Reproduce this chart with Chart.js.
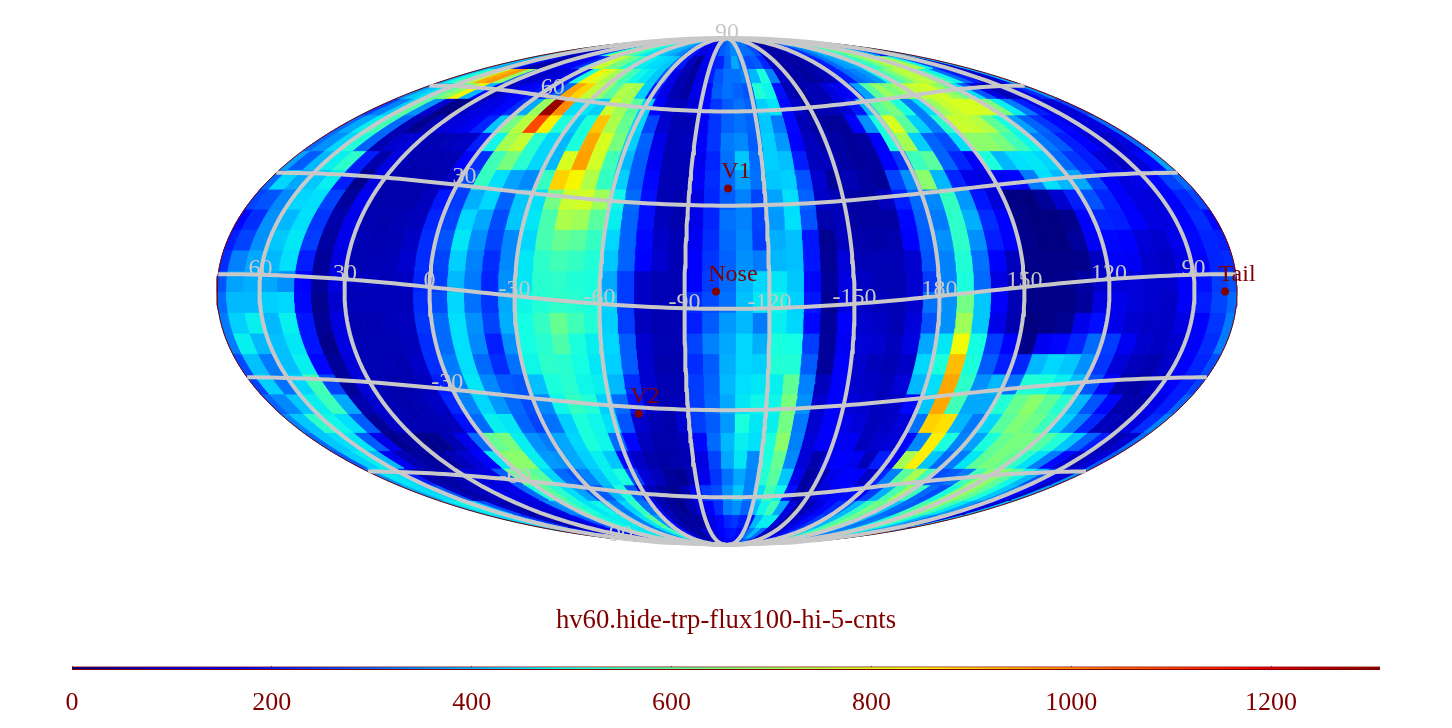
<!DOCTYPE html>
<html>
<head>
<meta charset="utf-8">
<title>hv60 sky map</title>
<script src="https://cdn.jsdelivr.net/npm/chart.js@4/dist/chart.umd.min.js"></script>
<style>
  html, body { margin: 0; background: #fff; }
  canvas { position: absolute; left: 0; }
  #map { top: 0; }
  #bar { top: 600px; }
</style>
</head>
<body>
<canvas id="map" width="1452" height="728"></canvas>
<canvas id="bar" width="1452" height="128"></canvas>
<script>
// one list per 6 degree latitude row, north to south, 60 columns left to right
// (the first column is the seam, half of it on each side of the map)
const latN87 = [420,430,390,320,140,60,90,100,140,250,500,700,720,620,560,500,470,450,440,420,400,380,340,280,200,140,120,160,220,280,300,330,320,320,320,280,150,70,40,40,60,110,170,230,300,350,400,430,480,540,600,640,650,540,380,220,120,80,120,240];
const latN81 = [430,420,380,300,100,60,100,90,130,230,500,740,800,660,600,520,470,450,440,420,400,380,340,280,200,120,100,150,220,280,300,340,320,300,300,260,120,60,40,40,50,100,160,220,300,350,400,430,500,560,640,700,720,600,400,200,100,70,100,200];
const latN75 = [420,380,300,260,120,60,40,50,100,130,140,210,480,760,780,650,620,520,440,470,450,440,420,330,190,70,30,130,200,210,290,380,310,260,280,210,70,30,50,40,40,50,120,200,300,360,380,420,500,560,660,740,760,750,700,480,260,130,60,100];
const latN69 = [400,500,600,760,950,980,700,300,100,80,100,100,130,200,500,850,800,720,640,560,480,460,420,280,120,60,40,110,200,270,310,310,330,400,500,330,80,30,50,30,50,60,130,200,300,330,360,480,560,640,730,760,700,560,480,300,200,80,60,110];
const latN63 = [350,420,460,600,680,850,400,170,60,100,140,170,200,190,300,960,900,760,700,600,740,720,430,200,120,60,40,120,170,280,310,290,270,510,480,180,60,30,60,60,110,130,170,370,600,700,650,700,760,780,790,700,620,450,270,110,60,90,110,220];
const latN57 = [250,330,430,600,350,90,10,10,80,110,120,170,220,380,700,1280,1000,450,460,430,780,710,600,430,150,80,70,100,170,230,280,310,290,430,460,170,80,30,60,60,100,190,400,600,650,500,320,450,700,770,800,800,790,660,470,320,200,120,90,100];
const latN51 = [300,380,470,560,300,60,20,60,100,110,130,210,420,640,750,1090,860,500,420,500,920,730,620,440,250,90,60,60,130,230,290,310,290,420,320,170,60,40,30,30,150,350,500,800,600,430,320,520,780,770,740,610,490,370,290,230,170,120,100,110];
const latN45 = [300,350,440,510,290,60,90,100,60,60,70,80,200,480,720,770,520,440,400,500,960,800,650,430,290,120,60,70,140,230,320,340,280,430,360,150,70,50,45,30,40,140,500,720,430,290,260,450,680,680,650,560,480,320,280,200,160,100,80,110];
const latN39 = [370,280,400,470,530,200,50,110,60,50,55,60,150,220,560,650,520,440,400,800,970,790,560,400,280,130,60,65,130,210,310,420,300,430,410,200,70,70,40,30,35,150,230,550,600,290,210,140,500,400,450,460,440,300,230,200,100,80,100,170];
const latN33 = [300,440,380,420,470,200,15,110,50,50,50,55,80,260,540,450,370,340,540,900,850,740,540,430,280,170,60,60,140,220,300,370,310,420,430,270,90,30,60,40,30,250,350,680,400,210,120,110,150,170,320,450,400,380,250,160,110,120,170,250];
const latN27 = [250,270,340,440,450,250,35,130,50,50,50,70,190,240,390,440,290,420,450,640,780,790,710,480,300,180,60,50,110,210,280,330,250,370,450,290,80,60,40,35,70,200,300,340,540,360,190,100,5,0,30,90,200,270,210,140,110,100,150,210];
const latN21 = [170,220,350,400,450,230,50,120,55,50,60,70,210,250,440,380,260,420,460,570,730,710,600,470,290,180,70,50,120,210,310,330,250,360,450,270,50,70,40,40,40,170,290,320,530,390,220,150,10,0,0,15,150,210,200,160,110,110,160,220];
const latN15 = [200,250,350,420,460,240,40,120,60,55,60,80,220,270,460,350,250,340,440,570,620,600,540,440,290,170,80,60,130,220,300,340,240,390,410,190,20,70,50,45,50,150,280,350,530,350,200,140,15,0,0,30,140,170,150,100,90,120,170,210];
const latN9 = [220,330,380,400,450,200,30,110,60,60,65,90,220,250,430,330,220,340,460,530,560,540,510,420,290,160,90,60,140,230,290,350,320,400,410,190,25,100,60,60,60,90,270,330,510,310,160,70,10,10,10,15,75,140,130,90,80,110,160,210];
const latN3 = [270,370,390,380,350,150,30,110,70,70,65,75,210,240,400,320,210,350,460,520,530,510,500,380,240,80,60,60,150,240,300,400,440,460,420,170,30,110,75,60,60,90,240,330,500,300,110,55,10,10,15,40,85,100,100,90,90,140,180,240];
const latS3 = [300,400,400,430,440,170,20,90,65,65,65,65,220,260,440,310,230,380,480,510,530,520,500,430,240,80,60,60,220,260,310,410,460,480,430,190,25,110,80,70,60,90,310,350,640,420,140,60,10,10,10,30,110,120,100,90,80,140,200,250];
const latS9 = [320,430,470,400,470,190,25,110,55,55,65,70,230,300,450,350,250,390,490,540,620,560,510,430,240,70,55,60,200,280,360,400,320,470,440,170,30,140,90,80,60,100,270,350,710,420,120,55,0,10,20,120,180,120,90,80,80,110,160,230];
const latS15 = [320,470,400,410,460,190,15,110,60,60,60,70,220,300,450,340,200,350,490,520,580,500,470,440,280,90,60,60,250,330,380,440,390,500,490,240,30,130,100,90,70,110,380,460,840,490,240,150,10,130,170,210,300,240,130,90,75,90,150,220];
const latS21 = [260,410,320,410,470,170,30,100,60,60,55,80,220,320,450,300,220,310,480,530,520,490,460,430,280,90,50,50,220,280,390,440,430,510,510,280,30,140,90,70,60,80,440,500,930,500,280,200,210,400,440,420,350,230,100,70,55,80,140,210];
const latS27 = [250,430,310,440,560,250,30,100,60,50,55,70,200,330,460,340,280,270,410,500,520,480,470,400,220,90,60,60,240,290,400,450,460,470,610,330,70,150,90,80,70,100,400,450,960,530,350,400,310,510,500,470,410,270,170,50,40,70,140,200];
const latS33 = [290,340,420,470,550,380,50,90,55,50,60,80,210,330,440,360,300,260,340,480,540,510,430,300,190,80,60,70,240,300,380,460,480,480,650,350,90,160,100,90,70,80,170,420,960,560,380,380,510,620,680,610,520,400,270,170,50,50,120,200];
const latS39 = [330,420,530,480,450,280,30,80,60,55,60,70,180,300,470,460,290,250,310,430,500,480,450,270,90,60,50,90,240,280,360,500,460,470,640,320,90,140,120,100,70,80,100,310,900,880,400,320,440,600,660,630,550,430,330,210,70,60,110,220];
const latS45 = [300,420,450,460,280,120,20,40,15,20,60,120,300,620,650,470,350,320,380,440,500,480,300,170,70,50,50,70,170,300,400,470,450,500,680,330,100,140,130,130,70,90,100,170,340,860,500,330,370,500,620,650,640,590,510,420,290,200,60,90];
const latS51 = [280,430,470,400,130,60,40,30,40,70,100,150,460,680,680,470,360,350,380,430,470,420,170,80,50,45,50,60,110,250,380,460,340,500,620,340,100,50,130,160,130,70,200,140,720,860,420,300,320,460,610,650,620,530,450,320,170,90,70,100];
const latS57 = [350,460,450,200,60,40,50,70,100,100,110,280,620,640,600,440,300,270,330,410,470,500,250,100,70,30,20,60,120,230,310,380,330,510,600,420,120,40,60,120,160,160,80,210,330,600,720,560,260,280,320,560,680,680,600,480,400,270,120,90];
const latS63 = [380,450,440,280,70,40,70,60,120,110,120,300,500,600,520,450,370,270,280,400,500,280,100,60,30,20,60,130,240,260,350,420,330,450,560,480,180,40,60,100,130,170,180,150,240,390,570,700,550,300,260,500,680,690,610,500,420,330,150,80];
const latS69 = [420,470,500,440,260,80,50,40,100,100,110,330,360,560,500,460,480,400,320,440,540,310,130,60,30,20,60,100,160,220,320,350,290,400,480,560,380,110,30,70,110,170,220,300,400,540,640,620,420,300,280,560,680,660,560,460,370,260,110,100];
const latS75 = [430,450,440,380,230,70,50,60,90,100,130,280,400,540,480,470,470,400,330,460,600,360,160,60,30,40,30,60,120,170,210,230,200,180,400,470,470,100,40,80,120,180,240,330,400,560,640,540,400,310,320,520,650,640,500,400,320,230,100,90];
const latS81 = [430,440,420,350,200,80,50,60,80,100,150,280,420,500,470,460,460,400,340,450,560,380,170,70,40,40,80,90,120,150,180,190,170,200,320,400,300,90,40,70,120,180,250,340,420,560,620,520,400,320,340,500,620,620,480,380,300,200,100,90];
const latS87 = [420,430,410,330,180,80,60,70,90,110,160,260,400,460,450,450,440,380,340,430,500,370,190,90,50,50,90,90,110,130,150,150,150,180,240,300,240,110,60,80,130,180,240,330,400,520,570,500,390,320,340,480,580,580,450,360,290,190,100,90];
const rows = [latN87,latN81,latN75,latN69,latN63,latN57,latN51,latN45,latN39,latN33,latN27,latN21,latN15,latN9,latN3,
              latS3,latS9,latS15,latS21,latS27,latS33,latS39,latS45,latS51,latS57,latS63,latS69,latS75,latS81,latS87];

const meridians = [60,30,0,-30,-60,-90,-120,-150,180,150,120,90];
const parallels = [60,30,0,-30,-60];
const latLabels = ['90','60','30','-30','-60','-90'];
const latLabelLats = [90,60,30,-30,-60,-78];
const latLabelLons = [-105,-9,-3,2,7,-3];
const latLabelDy = [-5,-9,-9,-6,-3,9];
const markerNames = ['V1','Nose','V2','Tail'];
const markerLons = [-105.4,-101.1,-69.5,79.2];
const markerLats = [30.2,0,-36.1,0];
const markerTextDx = [8,17,6,12];
const barTicks = [0,200,400,600,800,1000,1200];
const barMax = 1309;

const title = 'hv60.hide-trp-flux100-hi-5-cnts';
const darkRed = '#800000';
const gridGray = '#c8c8c8';
const serif = '"Liberation Serif", "Times New Roman", serif';

// map geometry in the picture
const mapCx = 727, mapCy = 291.5, mapHalfW = 510, mapHalfH = 253.5;
const R2 = Math.SQRT2;
const centerLon = -105;
const gridTilt = 5; // the graticule sits about 5 degrees off the data grid

function jet(v) {
  const t = Math.min(1, Math.max(0, v / barMax));
  const ramp = (p, pts) => {
    for (let i = 1; i < pts.length; i++) {
      if (p <= pts[i][0]) {
        const a = pts[i - 1], b = pts[i];
        return a[1] + (b[1] - a[1]) * (p - a[0]) / (b[0] - a[0]);
      }
    }
    return pts[pts.length - 1][1];
  };
  const r = ramp(t, [[0,0],[0.35,0],[0.66,1],[0.89,1],[1,0.5]]);
  const g = ramp(t, [[0,0],[0.125,0],[0.375,1],[0.64,1],[0.91,0],[1,0]]);
  const b = ramp(t, [[0,0.5],[0.11,1],[0.34,1],[0.65,0],[1,0]]);
  return 'rgb(' + Math.round(r * 255) + ',' + Math.round(g * 255) + ',' + Math.round(b * 255) + ')';
}

// Mollweide auxiliary angle
function thetaOf(latDeg) {
  const phi = latDeg * Math.PI / 180;
  if (Math.abs(latDeg) >= 90) return Math.sign(latDeg) * Math.PI / 2;
  let th = phi;
  for (let i = 0; i < 40; i++) {
    const d = 2 + 2 * Math.cos(2 * th);
    if (d < 1e-6) break;
    th -= (2 * th + Math.sin(2 * th) - Math.PI * Math.sin(phi)) / d;
  }
  return th;
}
function project(off, lat) {
  const th = thetaOf(lat);
  return { x: 2 * R2 / 180 * off * Math.cos(th), y: R2 * Math.sin(th) };
}
function lonToOffset(lon) {
  let off = centerLon - lon;
  while (off > 180) off -= 360;
  while (off < -180) off += 360;
  return off;
}
// graticule point: tilted in y, and in x only on the far half of the map
function gridPoint(off, lat) {
  const c = Math.cos(off * Math.PI / 180);
  const fade = 1 - Math.pow(Math.abs(lat) / 90, 8);
  const latY = lat - gridTilt * c * fade;
  const latX = lat - gridTilt * Math.min(0, c) * fade;
  return { x: project(off, latX).x, y: project(off, latY).y };
}

function cellPolygon(off0, off1, latTop, latBottom) {
  const pts = [];
  const n = 4;
  for (let k = 0; k <= n; k++) pts.push(project(off0, latTop + (latBottom - latTop) * k / n));
  for (let k = n; k >= 0; k--) pts.push(project(off1, latTop + (latBottom - latTop) * k / n));
  pts.push(pts[0]);
  return pts;
}

const datasets = [];
function addCell(off0, off1, latTop, value) {
  const color = jet(value);
  datasets.push({
    data: cellPolygon(off0, off1, latTop, latTop - 6),
    fill: 'shape', backgroundColor: color, borderColor: color, borderWidth: 1, order: 10
  });
}
rows.forEach(function (row, r) {
  const latTop = 90 - 6 * r;
  row.forEach(function (value, j) {
    if (j === 0) {
      addCell(-180, -177, latTop, value);
      addCell(177, 180, latTop, value);
    } else {
      const mid = (j - 30) * 6;
      addCell(mid - 3, mid + 3, latTop, value);
    }
  });
});

// outline of the map
const rim = [];
for (let lat = 90; lat >= -90; lat -= 2) rim.push(project(-180, lat));
for (let lat = -90; lat <= 90; lat += 2) rim.push(project(180, lat));
datasets.push({ data: rim, borderColor: darkRed, borderWidth: 1, fill: false, order: 5 });

// graticule
meridians.forEach(function (lon) {
  const off = lonToOffset(lon);
  const line = [];
  for (let lat = -90; lat <= 90; lat += 2) line.push(gridPoint(off, lat));
  datasets.push({ data: line, borderColor: gridGray, borderWidth: 4, fill: false, order: 3 });
});
parallels.forEach(function (lat) {
  const line = [];
  for (let off = -180; off <= 180; off += 3) line.push(gridPoint(off, lat));
  datasets.push({ data: line, borderColor: gridGray, borderWidth: 4, fill: false, order: 3 });
});

// spacecraft and nose/tail markers
datasets.push({
  data: markerLons.map((lon, i) => project(lonToOffset(lon), markerLats[i])),
  showLine: false, pointRadius: 4, pointBackgroundColor: darkRed, pointBorderWidth: 0, order: 1
});

const labelPlugin = {
  id: 'mapLabels',
  afterDatasetsDraw(chart) {
    const ctx = chart.ctx, xs = chart.scales.x, ys = chart.scales.y;
    ctx.save();
    ctx.font = '24px ' + serif;
    ctx.textAlign = 'center';
    ctx.textBaseline = 'middle';
    ctx.fillStyle = gridGray;
    meridians.forEach(function (lon) {
      const p = gridPoint(lonToOffset(lon), 0);
      ctx.fillText(String(lon), xs.getPixelForValue(p.x), ys.getPixelForValue(p.y) - 6);
    });
    latLabels.forEach(function (text, i) {
      const p = gridPoint(lonToOffset(latLabelLons[i]), latLabelLats[i]);
      ctx.fillText(text, xs.getPixelForValue(p.x), ys.getPixelForValue(p.y) + latLabelDy[i]);
    });
    ctx.fillStyle = darkRed;
    markerNames.forEach(function (text, i) {
      const p = project(lonToOffset(markerLons[i]), markerLats[i]);
      ctx.fillText(text, xs.getPixelForValue(p.x) + markerTextDx[i], ys.getPixelForValue(p.y) - 17);
    });
    ctx.restore();
  }
};

new Chart(document.getElementById('map'), {
  type: 'line',
  data: { datasets: datasets },
  options: {
    responsive: false,
    animation: false,
    events: [],
    layout: { padding: 0, autoPadding: false },
    elements: { point: { radius: 0 }, line: { tension: 0 } },
    plugins: { legend: { display: false }, tooltip: { enabled: false }, title: { display: false } },
    scales: {
      x: { type: 'linear', display: false, bounds: 'data', min: -mapCx / mapHalfW * 2 * R2, max: (1452 - mapCx) / mapHalfW * 2 * R2 },
      y: { type: 'linear', display: false, bounds: 'data', min: -(728 - mapCy) / mapHalfH * R2, max: mapCy / mapHalfH * R2 }
    }
  },
  plugins: [labelPlugin]
});

// colour bar and title
new Chart(document.getElementById('bar'), {
  type: 'bar',
  data: {
    labels: [''],
    datasets: [{
      data: [barMax],
      barThickness: 3,
      borderWidth: 1,
      borderColor: darkRed,
      backgroundColor: function (c) {
        const area = c.chart.chartArea;
        if (!area) return darkRed;
        const g = c.chart.ctx.createLinearGradient(area.left, 0, area.right, 0);
        for (let v = 0; v <= barMax; v += 20) g.addColorStop(v / barMax, jet(v));
        return g;
      }
    }]
  },
  options: {
    indexAxis: 'y',
    responsive: false,
    animation: false,
    events: [],
    layout: { padding: { left: 72, right: 72, top: 0, bottom: 4 }, autoPadding: false },
    plugins: {
      legend: { display: false },
      tooltip: { enabled: false },
      title: {
        display: true, text: title, color: darkRed,
        font: { family: serif, size: 26.7, weight: 'normal' },
        padding: { top: 4.5, bottom: 29.7 }
      }
    },
    scales: {
      x: {
        type: 'linear', bounds: 'data', min: 0, max: barMax,
        afterBuildTicks: function (axis) { axis.ticks = barTicks.map(v => ({ value: v })); },
        afterFit: function (axis) { axis.height = 54; },
        grid: { color: darkRed, lineWidth: 1, tickLength: 0, drawOnChartArea: true },
        border: { display: false },
        ticks: {
          color: darkRed, padding: 18, maxRotation: 0, autoSkip: false,
          font: { family: serif, size: 26 },
          callback: function (v) { return String(v); }
        }
      },
      y: { display: false }
    }
  }
});
</script>
</body>
</html>
